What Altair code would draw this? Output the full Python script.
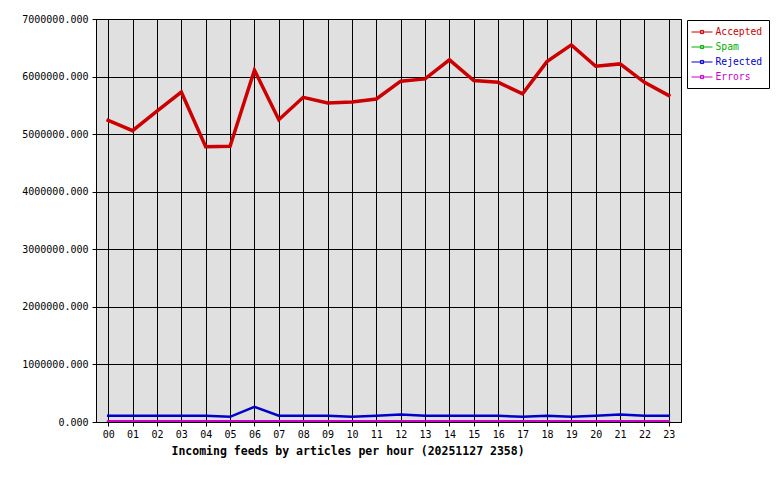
import altair as alt
import pandas as pd

hours = ["00", "01", "02", "03", "04", "05", "06", "07", "08", "09", "10", "11",
         "12", "13", "14", "15", "16", "17", "18", "19", "20", "21", "22", "23"]
accepted = [5240000, 5060000, 5400000, 5730000, 4780000, 4790000, 6110000, 5250000,
            5640000, 5540000, 5560000, 5610000, 5920000, 5960000, 6290000, 5930000,
            5900000, 5700000, 6260000, 6550000, 6180000, 6220000, 5900000, 5670000]
spam = [0] * 24
rejected = [108000, 108000, 108000, 108000, 108000, 90000, 262000, 108000,
            108000, 108000, 90000, 108000, 130000, 108000, 108000, 108000,
            108000, 90000, 108000, 90000, 108000, 130000, 108000, 108000]
errors = [18000] * 24

series = ["Accepted", "Spam", "Rejected", "Errors"]
colors = ["#cc0000", "#00b000", "#0000cc", "#cc00cc"]
widths = [3.5, 2, 3.5, 2.5]

rows = []
for name, vals in zip(series, [accepted, spam, rejected, errors]):
    for h, v in zip(hours, vals):
        rows.append({"hour": h, "value": v, "series": name, "width_key": name + " "})
df = pd.DataFrame(rows)

mono = "DejaVu Sans Mono"
label_color_expr = (
    "datum.label == 'Accepted' ? '#cc0000' : datum.label == 'Spam' ? '#00b000' : "
    "datum.label == 'Rejected' ? '#0000cc' : '#cc00cc'"
)

x_enc = alt.X("hour:O", sort=hours,
              scale=alt.Scale(type="point", padding=0.5),
              axis=alt.Axis(title="Incoming feeds by articles per hour (20251127 2358)",
                            labelAngle=0, grid=True, gridColor="black", gridOpacity=1,
                            tickColor="black", tickSize=4, domainColor="black",
                            labelFont=mono, labelFontSize=10, labelColor="black",
                            labelPadding=3, titleFont=mono, titleFontSize=11.5,
                            titleFontWeight="bold", titleColor="black",
                            titleAnchor="start", titleAlign="left", titleX=75,
                            titlePadding=6))
y_enc = alt.Y("value:Q", scale=alt.Scale(domain=[0, 7000000], nice=False),
              axis=alt.Axis(title=None, values=[0, 1000000, 2000000, 3000000, 4000000,
                                                5000000, 6000000, 7000000],
                            format=".3f", grid=True, gridColor="black", gridOpacity=1,
                            tickColor="black", tickSize=4, domainColor="black",
                            labelFont=mono, labelFontSize=10, labelColor="black",
                            labelPadding=4))
color_enc = alt.Color("series:N", sort=series,
                      scale=alt.Scale(domain=series, range=colors),
                      legend=alt.Legend(title=None, orient="none", legendX=591, legendY=1,
                                        labelFont=mono, labelFontSize=9.7,
                                        labelColor={"expr": label_color_expr},
                                        symbolType="M-2,0H2M-0.3,-0.3H0.3V0.3H-0.3Z",
                                        symbolSize=110, symbolStrokeWidth=1,
                                        symbolOffset=3,
                                        labelOffset=7.5, rowPadding=4,
                                        padding=6, strokeColor="black",
                                        fillColor="white"))
width_enc = alt.StrokeWidth("width_key:N",
                            scale=alt.Scale(domain=[s + " " for s in series], range=widths),
                            legend=None)

base = alt.Chart(df).mark_line(strokeCap="square", clip=True).encode(
    x=x_enc, y=y_enc, color=color_enc, strokeWidth=width_enc
)
main = base.transform_filter("datum.series != 'Errors'")
err = base.transform_filter("datum.series == 'Errors'")

chart = alt.layer(main, err).properties(
    width=585, height=403,
    autosize=alt.AutoSizeParams(type="none"),
    padding={"left": 88, "top": 11, "right": 91, "bottom": 50},
    background="white",
).configure_view(
    fill="#e0e0e0", stroke="black", strokeWidth=1
)

chart.save("out.html", embed_options={"renderer": "svg", "actions": False})
